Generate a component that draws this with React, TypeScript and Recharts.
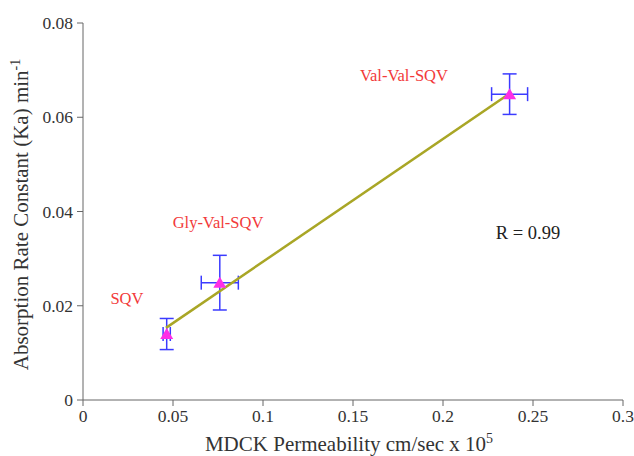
import React from "react";
import { ScatterChart, Scatter, XAxis, YAxis, ErrorBar, ReferenceLine } from "recharts";

const compounds = ["SQV", "Gly-Val-SQV", "Val-Val-SQV"];
const permeability = [0.0465, 0.076, 0.237];
const permeabilityErr = [0.002, 0.0103, 0.01];
const ka = [0.014, 0.0249, 0.0649];
const kaErr = [0.0033, 0.0058, 0.0043];

const labelX = [0.0244, 0.075, 0.1783];
const labelY = [0.0216, 0.0376, 0.0688];

const fitX = [0.0461, 0.2372];
const fitY = [0.0153, 0.0651];

const rText = "R = 0.99";
const rPos = { x: 0.2472, y: 0.0354 };

const xTicks = [0, 0.05, 0.1, 0.15, 0.2, 0.25, 0.3];
const yTicks = [0, 0.02, 0.04, 0.06, 0.08];

const points = compounds.map((name, i) => ({
  name,
  x: permeability[i],
  y: ka[i],
  ex: permeabilityErr[i],
  ey: kaErr[i],
}));

const annotations = [
  ...compounds.map((name, i) => ({ x: labelX[i], y: labelY[i], text: name, color: "#f23a3a", size: 16.5 })),
  { x: rPos.x, y: rPos.y, text: rText, color: "#222", size: 18.5 },
];

const FONT = "Liberation Serif";

const Triangle = (props: any) => {
  const { cx, cy } = props;
  if (cx == null || cy == null) return null;
  const w = 6.5;
  return (
    <polygon
      points={`${cx},${cy - 6} ${cx - w},${cy + 5} ${cx + w},${cy + 5}`}
      fill="#ff2ee6"
    />
  );
};

const TextShape = (props: any) => {
  const { cx, cy, payload } = props;
  if (cx == null || cy == null) return null;
  return (
    <text
      x={cx}
      y={cy}
      textAnchor="middle"
      dominantBaseline="central"
      style={{ fontFamily: FONT }}
      fontSize={payload.size}
      fill={payload.color}
    >
      {payload.text}
    </text>
  );
};

const XTick = (props: any) => {
  const { x, y, payload } = props;
  return (
    <text x={x} y={y + 14} textAnchor="middle" style={{ fontFamily: FONT }} fontSize={17.5} fill="#333">
      {String(payload.value)}
    </text>
  );
};

const YTick = (props: any) => {
  const { x, y, payload } = props;
  return (
    <text x={x} y={y + 6} textAnchor="end" style={{ fontFamily: FONT }} fontSize={17.5} fill="#333">
      {String(payload.value)}
    </text>
  );
};

const XTitle = (props: any) => {
  const vb = props.viewBox || {};
  const cx = vb.x + vb.width / 2 - 4;
  return (
    <text x={cx} y={451} textAnchor="middle" style={{ fontFamily: FONT }} fontSize={21} fill="#333">
      MDCK Permeability cm/sec x 10
      <tspan dy={-8} fontSize={14}>5</tspan>
    </text>
  );
};

const YTitle = (props: any) => {
  const vb = props.viewBox || {};
  const cy = vb.y + vb.height / 2 + 3;
  const cx = 28;
  return (
    <text
      x={cx}
      y={cy}
      transform={`rotate(-90, ${cx}, ${cy})`}
      textAnchor="middle"
      style={{ fontFamily: FONT }}
      fontSize={21}
      fill="#333"
    >
      Absorption Rate Constant (Ka) min
      <tspan dy={-8} fontSize={14}>-1</tspan>
    </text>
  );
};

export default function App() {
  return (
    <div style={{ position: "absolute", left: 0, top: 0, width: 634, height: 456, background: "#fff" }}>
      <ScatterChart width={634} height={456} margin={{ top: 23, right: 11, bottom: 0, left: 0 }}>
        <XAxis
          type="number"
          dataKey="x"
          domain={[0, 0.3]}
          ticks={xTicks}
          height={56}
          stroke="#666"
          tickSize={6}
          tickMargin={2}
          tick={<XTick />}
          label={<XTitle />}
          allowDataOverflow
        />
        <YAxis
          type="number"
          dataKey="y"
          domain={[0, 0.08]}
          ticks={yTicks}
          width={83}
          stroke="#666"
          tickSize={6}
          tickMargin={4}
          tick={<YTick />}
          label={<YTitle />}
          allowDataOverflow
        />
        <Scatter data={points} shape={<Triangle />} isAnimationActive={false}>
          <ErrorBar dataKey="ex" direction="x" width={7} stroke="#3b3bff" strokeWidth={1.5} />
          <ErrorBar dataKey="ey" direction="y" width={7} stroke="#3b3bff" strokeWidth={1.5} />
        </Scatter>
        <ReferenceLine
          segment={[
            { x: fitX[0], y: fitY[0] },
            { x: fitX[1], y: fitY[1] },
          ]}
          stroke="#a9a626"
          strokeWidth={2.5}
          ifOverflow="visible"
        />
        <Scatter data={annotations} shape={<TextShape />} isAnimationActive={false} />
      </ScatterChart>
    </div>
  );
}
